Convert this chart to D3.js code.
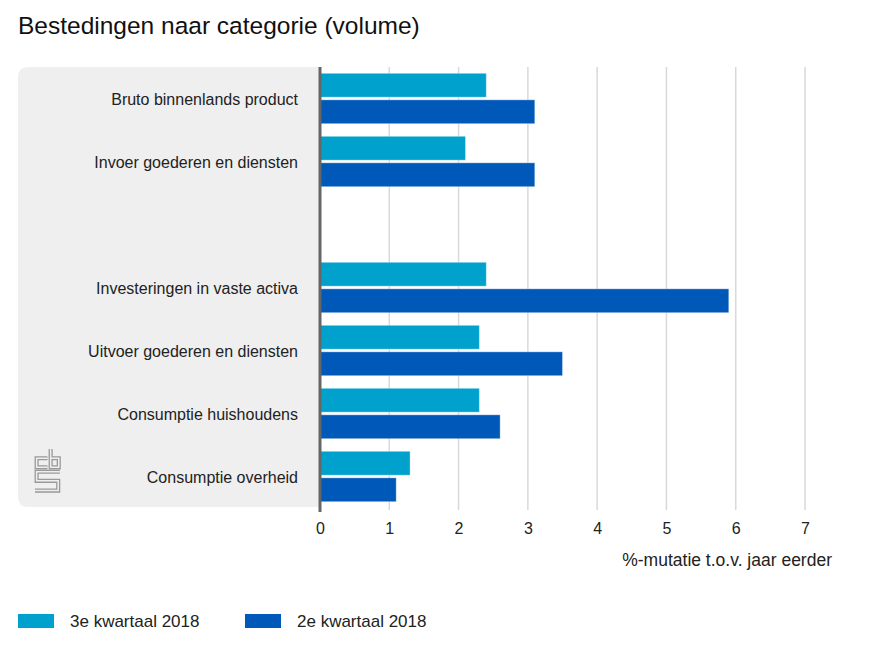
<!DOCTYPE html>
<html><head><meta charset="utf-8">
<script src="https://cdn.jsdelivr.net/npm/d3@7"></script>
<style>
body{margin:0;background:#fff;}
svg text{font-family:"Liberation Sans",Arial,sans-serif;}
</style></head>
<body><svg id="c" width="870" height="653"></svg>
<script>
const categories = ["Bruto binnenlands product","Invoer goederen en diensten","","Investeringen in vaste activa","Uitvoer goederen en diensten","Consumptie huishoudens","Consumptie overheid"];
const seriesNames = ["3e kwartaal 2018","2e kwartaal 2018"];
const q3 = [2.4, 2.1, null, 2.4, 2.3, 2.3, 1.3];
const q2 = [3.1, 3.1, null, 5.9, 3.5, 2.6, 1.1];
const xTicks = [0,1,2,3,4,5,6,7];
const colors = ["#00a1cd","#0058b8"];

const svg = d3.select("#c");
const x = d3.scaleLinear().domain([0,7]).range([320,805]);
const y = d3.scaleBand().domain(d3.range(categories.length)).range([67,508]).paddingInner(0.2).paddingOuter(0.1);
const ySub = d3.scaleBand().domain([0,1]).range([0,y.bandwidth()]).paddingInner(0.1);

svg.append("text").attr("x",18).attr("y",34).attr("font-size",24.5).attr("fill","#111").text("Bestedingen naar categorie (volume)");

// panel
svg.append("path").attr("fill","#efefef")
 .attr("d",`M320,67 L28,67 Q18,67 18,77 L18,497 Q18,507 28,507 L320,507 Z`);

// gridlines
svg.append("g").selectAll("line").data(xTicks.slice(1)).join("line")
 .attr("x1",d=>x(d)).attr("x2",d=>x(d)).attr("y1",67).attr("y2",510)
 .attr("stroke","#d9d9d9").attr("stroke-width",1.5);

// labels
svg.append("g").selectAll("text").data(categories).join("text")
 .attr("x",298).attr("y",(d,i)=>y(i)+y.bandwidth()/2+6).attr("text-anchor","end")
 .attr("font-size",16).attr("fill","#222").text(d=>d);

// bars
const data = [q3,q2];
data.forEach((s,si)=>{
  svg.append("g").selectAll("rect").data(s.map((v,i)=>({v,i})).filter(d=>d.v!=null)).join("rect")
   .attr("x",x(0)).attr("y",d=>y(d.i)+ySub(si)).attr("height",ySub.bandwidth())
   .attr("width",d=>x(d.v)-x(0)).attr("fill",colors[si])
   .attr("stroke","rgba(255,255,255,0.35)").attr("stroke-width",1);
});

// axis line
svg.append("line").attr("x1",320).attr("x2",320).attr("y1",67).attr("y2",512).attr("stroke","#666").attr("stroke-width",3);

// x axis tick labels
const ax = svg.append("g").attr("transform","translate(0,512)").call(d3.axisBottom(x).tickValues(xTicks).tickFormat(d3.format("d")).tickSize(0).tickPadding(11));
ax.select(".domain").remove();
ax.selectAll("text").attr("font-size",16).attr("fill","#222").attr("font-family","Liberation Sans, Arial, sans-serif");

svg.append("text").attr("x",832).attr("y",566).attr("text-anchor","end").attr("font-size",17.5).attr("fill","#222").text("%-mutatie t.o.v. jaar eerder");

// legend
const legX = [18,245];
seriesNames.forEach((n,i)=>{
  svg.append("rect").attr("x",legX[i]).attr("y",614).attr("width",36).attr("height",14).attr("fill",colors[i]);
  svg.append("text").attr("x",legX[i]+52).attr("y",627).attr("font-size",17).attr("fill","#222").text(n);
});

// cbs logo (double outlined strokes)
const logoPaths = ["M11.5,8.5 H1.5 V17 H11.5","M14.5,0 V17 H22 V8.5 H14.5","M23,21 H1.5 V29.5 H21.5 V38.5 H0"];
const lg = svg.append("g").attr("transform","translate(35,449) scale(1.08)").attr("fill","none").attr("stroke-linejoin","miter");
lg.selectAll("path.o").data(logoPaths).join("path").attr("class","o").attr("d",d=>d).attr("stroke","#999").attr("stroke-width",3.8);
lg.selectAll("path.i").data(logoPaths).join("path").attr("class","i").attr("d",d=>d).attr("stroke","#efefef").attr("stroke-width",1.4);
</script></body></html>
